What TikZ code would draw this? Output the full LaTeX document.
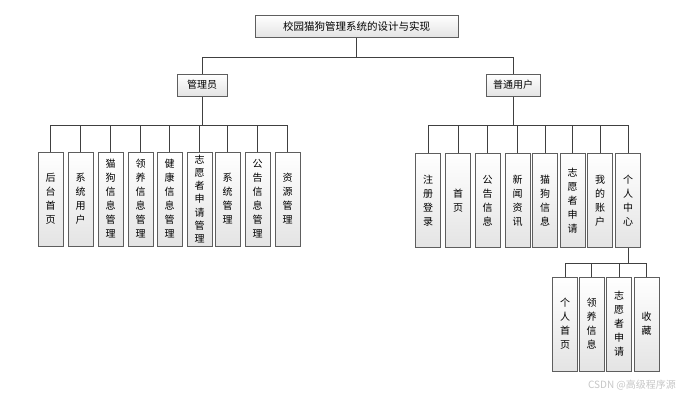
\documentclass[tikz,border=0pt]{standalone}
\usepackage{fontspec}
\newfontfamily\cjk{Noto Sans CJK SC}
\usetikzlibrary{positioning}
\definecolor{boxline}{HTML}{5E5E5E}
\definecolor{wirecol}{HTML}{404040}
\definecolor{boxbot}{HTML}{E4E4E4}

\begin{document}
\begin{tikzpicture}[
  x=1pt, y=-1pt,
  box/.style={draw=boxline, line width=1pt, top color=white, bottom color=boxbot,
    inner sep=0pt, align=center, font=\cjk\fontsize{10}{14}\selectfont},
  head/.style={box, minimum height=22pt},
  leaf/.style={box, minimum width=25pt, minimum height=94pt},
  wire/.style={draw=wirecol, line width=0.8pt},
]

\useasboundingbox (0,0) rectangle (690,400);

% === Top ===
\node[head, minimum width=203pt, font=\cjk\fontsize{10.5}{14}\selectfont] (root) at (356.5,26) {校园猫狗管理系统的设计与实现};
\node[head, minimum width=50pt] (adm) at (202,85) {管理员};
\node[head, minimum width=54pt] (usr) at (513,85) {普通用户};

% === Admin modules ===
\node[leaf] (a1) at (50.5,199) {后\\台\\首\\页};
\node[leaf] (a2) at (80.5,199) {系\\统\\用\\户};
\node[leaf] (a3) at (110.5,199) {猫\\狗\\信\\息\\管\\理};
\node[leaf] (a4) at (140.5,199) {领\\养\\信\\息\\管\\理};
\node[leaf] (a5) at (169.5,199) {健\\康\\信\\息\\管\\理};
\node[leaf, font=\cjk\fontsize{10}{13.2}\selectfont] (a6) at (199.5,199) {志\\愿\\者\\申\\请\\管\\理};
\node[leaf] (a7) at (227.5,199) {系\\统\\管\\理};
\node[leaf] (a8) at (257.5,199) {公\\告\\信\\息\\管\\理};
\node[leaf] (a9) at (287.5,199) {资\\源\\管\\理};

% === User modules ===
\node[leaf] (u1) at (428,200.5) {注\\册\\登\\录};
\node[leaf] (u2) at (458,200.5) {首\\页};
\node[leaf] (u3) at (487.5,200.5) {公\\告\\信\\息};
\node[leaf] (u4) at (517.5,200.5) {新\\闻\\资\\讯};
\node[leaf] (u5) at (545,200.5) {猫\\狗\\信\\息};
\node[leaf] (u6) at (572.5,200.5) {志\\愿\\者\\申\\请};
\node[leaf] (u7) at (600,200.5) {我\\的\\账\\户};
\node[leaf] (u8) at (628,200.5) {个\\人\\中\\心};

% === Personal centre ===
\node[leaf] (p1) at (565,324) {个\\人\\首\\页};
\node[leaf] (p2) at (591.5,324) {领\\养\\信\\息};
\node[leaf] (p3) at (619,324) {志\\愿\\者\\申\\请};
\node[leaf] (p4) at (646.5,324) {收\\藏};

% === Connectors ===
\draw[wire] (root.south) -- ++(0,20) coordinate (rootbus);
\draw[wire] (adm.north) |- (rootbus) -| (usr.north);

\draw[wire] (adm.south) -- ++(0,29) coordinate (admbus);
\foreach \c in {a1,a2,a3,a4,a5,a6,a7,a8,a9}
  \draw[wire] (admbus) -| (\c.north);

\draw[wire] (usr.south) -- ++(0,29) coordinate (usrbus);
\foreach \c in {u1,u2,u3,u4,u5,u6,u7,u8}
  \draw[wire] (usrbus) -| (\c.north);

\draw[wire] (u8.south) -- ++(0,15) coordinate (selfbus);
\foreach \c in {p1,p2,p3,p4}
  \draw[wire] (selfbus) -| (\c.north);

% Watermark
\node[font=\cjk\fontsize{10}{12}\selectfont, text=gray!45] (mark) at (632,385) {CSDN @高级程序源};

\end{tikzpicture}
\end{document}
